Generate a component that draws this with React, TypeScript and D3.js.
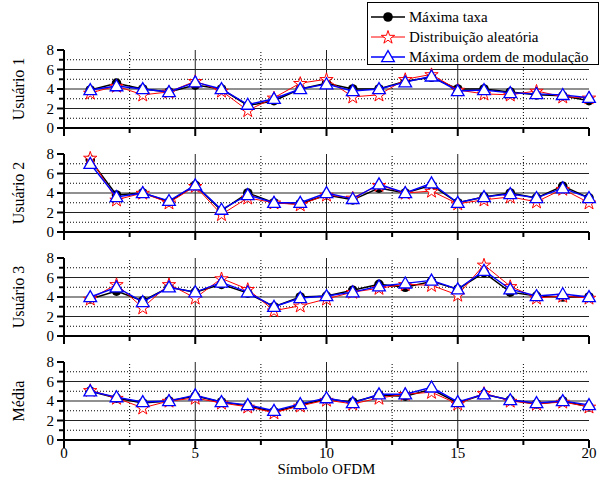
import React from 'react';
import * as d3 from 'd3';

// símbolos OFDM 1..20
const simbolos = d3.range(1, 21);

const panelNames = ['Usuário 1', 'Usuário 2', 'Usuário 3', 'Média'];

const maxTaxa = [
  [3.9, 4.6, 4.0, 3.7, 4.4, 4.0, 2.3, 2.8, 4.0, 4.6, 4.0, 4.0, 4.8, 5.2, 4.0, 4.0, 3.7, 3.4, 3.3, 2.8],
  [7.4, 3.8, 4.0, 3.1, 4.8, 2.2, 4.0, 3.0, 2.9, 3.8, 3.3, 4.5, 4.0, 4.8, 3.0, 3.6, 4.0, 3.5, 4.7, 3.5],
  [3.8, 4.6, 3.6, 5.0, 4.5, 5.3, 4.4, 3.0, 4.0, 4.1, 4.7, 5.3, 5.0, 5.6, 4.8, 6.5, 4.5, 4.1, 4.0, 4.0],
  [5.0, 4.3, 3.8, 4.0, 4.5, 3.9, 3.5, 2.9, 3.6, 4.2, 3.9, 4.6, 4.5, 5.2, 3.8, 4.7, 4.1, 3.7, 4.0, 3.4],
];

const distAleatoria = [
  [3.6, 4.3, 3.4, 3.7, 4.8, 3.8, 1.8, 3.1, 4.6, 5.0, 3.2, 3.4, 5.0, 5.5, 3.9, 3.5, 3.4, 3.8, 3.2, 3.1],
  [7.6, 3.3, 4.0, 3.0, 4.7, 1.8, 3.5, 3.0, 2.8, 3.8, 3.5, 4.8, 4.0, 4.2, 2.9, 3.3, 3.6, 3.1, 4.4, 3.0],
  [3.8, 5.3, 2.9, 5.3, 3.9, 5.9, 4.8, 2.6, 3.1, 3.8, 4.5, 4.9, 5.3, 5.2, 4.2, 7.3, 5.1, 3.9, 4.1, 3.9],
  [5.1, 4.3, 3.3, 4.0, 4.3, 3.8, 3.4, 2.8, 3.5, 4.1, 3.7, 4.3, 4.7, 4.9, 3.7, 4.8, 4.0, 3.7, 3.9, 3.4],
];

const maxOrdem = [
  [3.9, 4.3, 4.0, 3.7, 4.7, 4.0, 2.4, 3.0, 4.0, 4.5, 3.8, 4.0, 4.7, 5.3, 3.8, 3.9, 3.6, 3.5, 3.4, 3.1],
  [7.0, 3.6, 4.0, 3.2, 4.8, 2.3, 3.8, 3.0, 3.0, 4.0, 3.4, 4.9, 4.0, 5.0, 3.0, 3.6, 3.9, 3.5, 4.5, 3.5],
  [4.0, 5.0, 3.5, 5.0, 4.5, 5.5, 4.5, 3.0, 3.9, 4.1, 4.5, 5.1, 5.4, 5.7, 4.8, 6.7, 4.8, 4.1, 4.3, 4.0],
  [5.0, 4.4, 3.9, 4.0, 4.6, 3.9, 3.6, 3.0, 3.7, 4.3, 3.8, 4.7, 4.7, 5.4, 3.9, 4.7, 4.1, 3.8, 4.0, 3.6],
];

const legendLabels = ['Máxima taxa', 'Distribuição aleatória', 'Máxima ordem de modulação'];
const xTicks = [0, 5, 10, 15, 20];
const xMinor = [2.5, 7.5, 12.5, 17.5];
const yTicks = [0, 2, 4, 6, 8];
const yMinor = [1, 3, 5, 7];

const W = 604;
const H = 492;
const font = "'Liberation Serif', 'DejaVu Serif', serif";
const txt = { fontFamily: font };
const panelTops = [50, 154, 258, 362];
const panelH = 78;

const starPath = d3.symbol().type(d3.symbolStar).size(55)()!;
const triPath = d3.symbol().type(d3.symbolTriangle).size(70)()!;

const Marker = ({ kind, x, y }: { kind: number; x: number; y: number }) => {
  if (kind === 0) return <circle cx={x} cy={y} r={4.8} fill="#000" />;
  if (kind === 1)
    return <path d={starPath} transform={`translate(${x},${y + 0.5})`} fill="#fff" stroke="#f00" strokeWidth={1} />;
  return <path d={triPath} transform={`translate(${x},${y + 1})`} fill="#fff" stroke="#00f" strokeWidth={1.3} />;
};

const colors = ['#000', '#f00', '#00f'];
const widths = [1.5, 1, 1.4];

export default function App() {
  const x = d3.scaleLinear().domain([0, 20]).range([64, 589]);
  const series = [maxTaxa, distAleatoria, maxOrdem];

  const panels = panelTops.map((top, p) => {
    const y = d3.scaleLinear().domain([0, 8]).range([top + panelH, top]);
    const line = d3
      .line<number>()
      .x((_, i) => x(simbolos[i]))
      .y((d) => y(d));
    return (
      <g key={p}>
        {/* grid */}
        {yMinor.map((v) => (
          <line key={'ym' + v} x1={x(0)} x2={x(20)} y1={y(v)} y2={y(v)} stroke="#000" strokeWidth={1} strokeDasharray="1,2" />
        ))}
        {yTicks.slice(1, 4).map((v) => (
          <line key={'yt' + v} x1={x(0)} x2={x(20)} y1={y(v)} y2={y(v)} stroke="#222" strokeWidth={1.2} />
        ))}
        {xMinor.map((v) => (
          <line key={'xm' + v} x1={x(v)} x2={x(v)} y1={y(0)} y2={y(8)} stroke="#000" strokeWidth={1} strokeDasharray="1,2" />
        ))}
        {xTicks.slice(1, 4).map((v) => (
          <line key={'xt' + v} x1={x(v)} x2={x(v)} y1={y(0)} y2={y(8)} stroke="#222" strokeWidth={1} />
        ))}
        {/* axes */}
        <line x1={x(0)} x2={x(20)} y1={y(0)} y2={y(0)} stroke="#000" strokeWidth={2} />
        <line x1={x(0)} x2={x(0)} y1={y(0)} y2={y(8)} stroke="#000" strokeWidth={2} />
        {xTicks.map((v) => (
          <line key={'bt' + v} x1={x(v)} x2={x(v)} y1={y(0)} y2={y(0) + 8} stroke="#000" strokeWidth={2} />
        ))}
        {xMinor.map((v) => (
          <line key={'bm' + v} x1={x(v)} x2={x(v)} y1={y(0)} y2={y(0) + 5} stroke="#000" strokeWidth={2} />
        ))}
        {yTicks.map((v) => (
          <g key={'lt' + v}>
            <line x1={x(0) - 7} x2={x(0)} y1={y(v)} y2={y(v)} stroke="#000" strokeWidth={2} />
            <text x={x(0) - 10} y={y(v)} dy="0.35em" textAnchor="end" fontSize={15} style={txt}>
              {v}
            </text>
          </g>
        ))}
        {yMinor.map((v) => (
          <line key={'lm' + v} x1={x(0) - 5} x2={x(0)} y1={y(v)} y2={y(v)} stroke="#000" strokeWidth={2} />
        ))}
        <text
          transform={`translate(24,${top + panelH / 2}) rotate(-90)`}
          textAnchor="middle"
          fontSize={16}
          style={txt}
        >
          {panelNames[p]}
        </text>
        {/* series */}
        {series.map((s, k) => (
          <g key={'s' + k}>
            <path d={line(s[p])!} fill="none" stroke={colors[k]} strokeWidth={widths[k]} />
            {s[p].map((v, i) => (
              <Marker key={i} kind={k} x={x(simbolos[i])} y={y(v)} />
            ))}
          </g>
        ))}
      </g>
    );
  });

  const lastBottom = panelTops[3] + panelH;

  return (
    <svg width={W} height={H} style={{ position: 'absolute', left: 0, top: 0, background: '#fff' }}>
      <rect width={W} height={H} fill="#fff" />
      {panels}
      {xTicks.map((v) => (
        <text key={v} x={x(v)} y={lastBottom + 18} textAnchor="middle" fontSize={15} style={txt}>
          {v}
        </text>
      ))}
      <text x={x(10)} y={lastBottom + 34} textAnchor="middle" fontSize={15} style={txt}>
        Símbolo OFDM
      </text>
      {/* legend */}
      <g>
        <rect x={367.5} y={2.5} width={231} height={62} fill="#fff" stroke="#000" strokeWidth={1} />
        {legendLabels.map((lab, k) => {
          const ly = 17 + k * 20;
          return (
            <g key={lab}>
              <line x1={371} x2={405} y1={ly} y2={ly} stroke={colors[k]} strokeWidth={widths[k]} />
              <Marker kind={k} x={388} y={ly} />
              <text x={409} y={ly} dy="0.35em" fontSize={15} style={txt}>
                {lab}
              </text>
            </g>
          );
        })}
      </g>
    </svg>
  );
}
